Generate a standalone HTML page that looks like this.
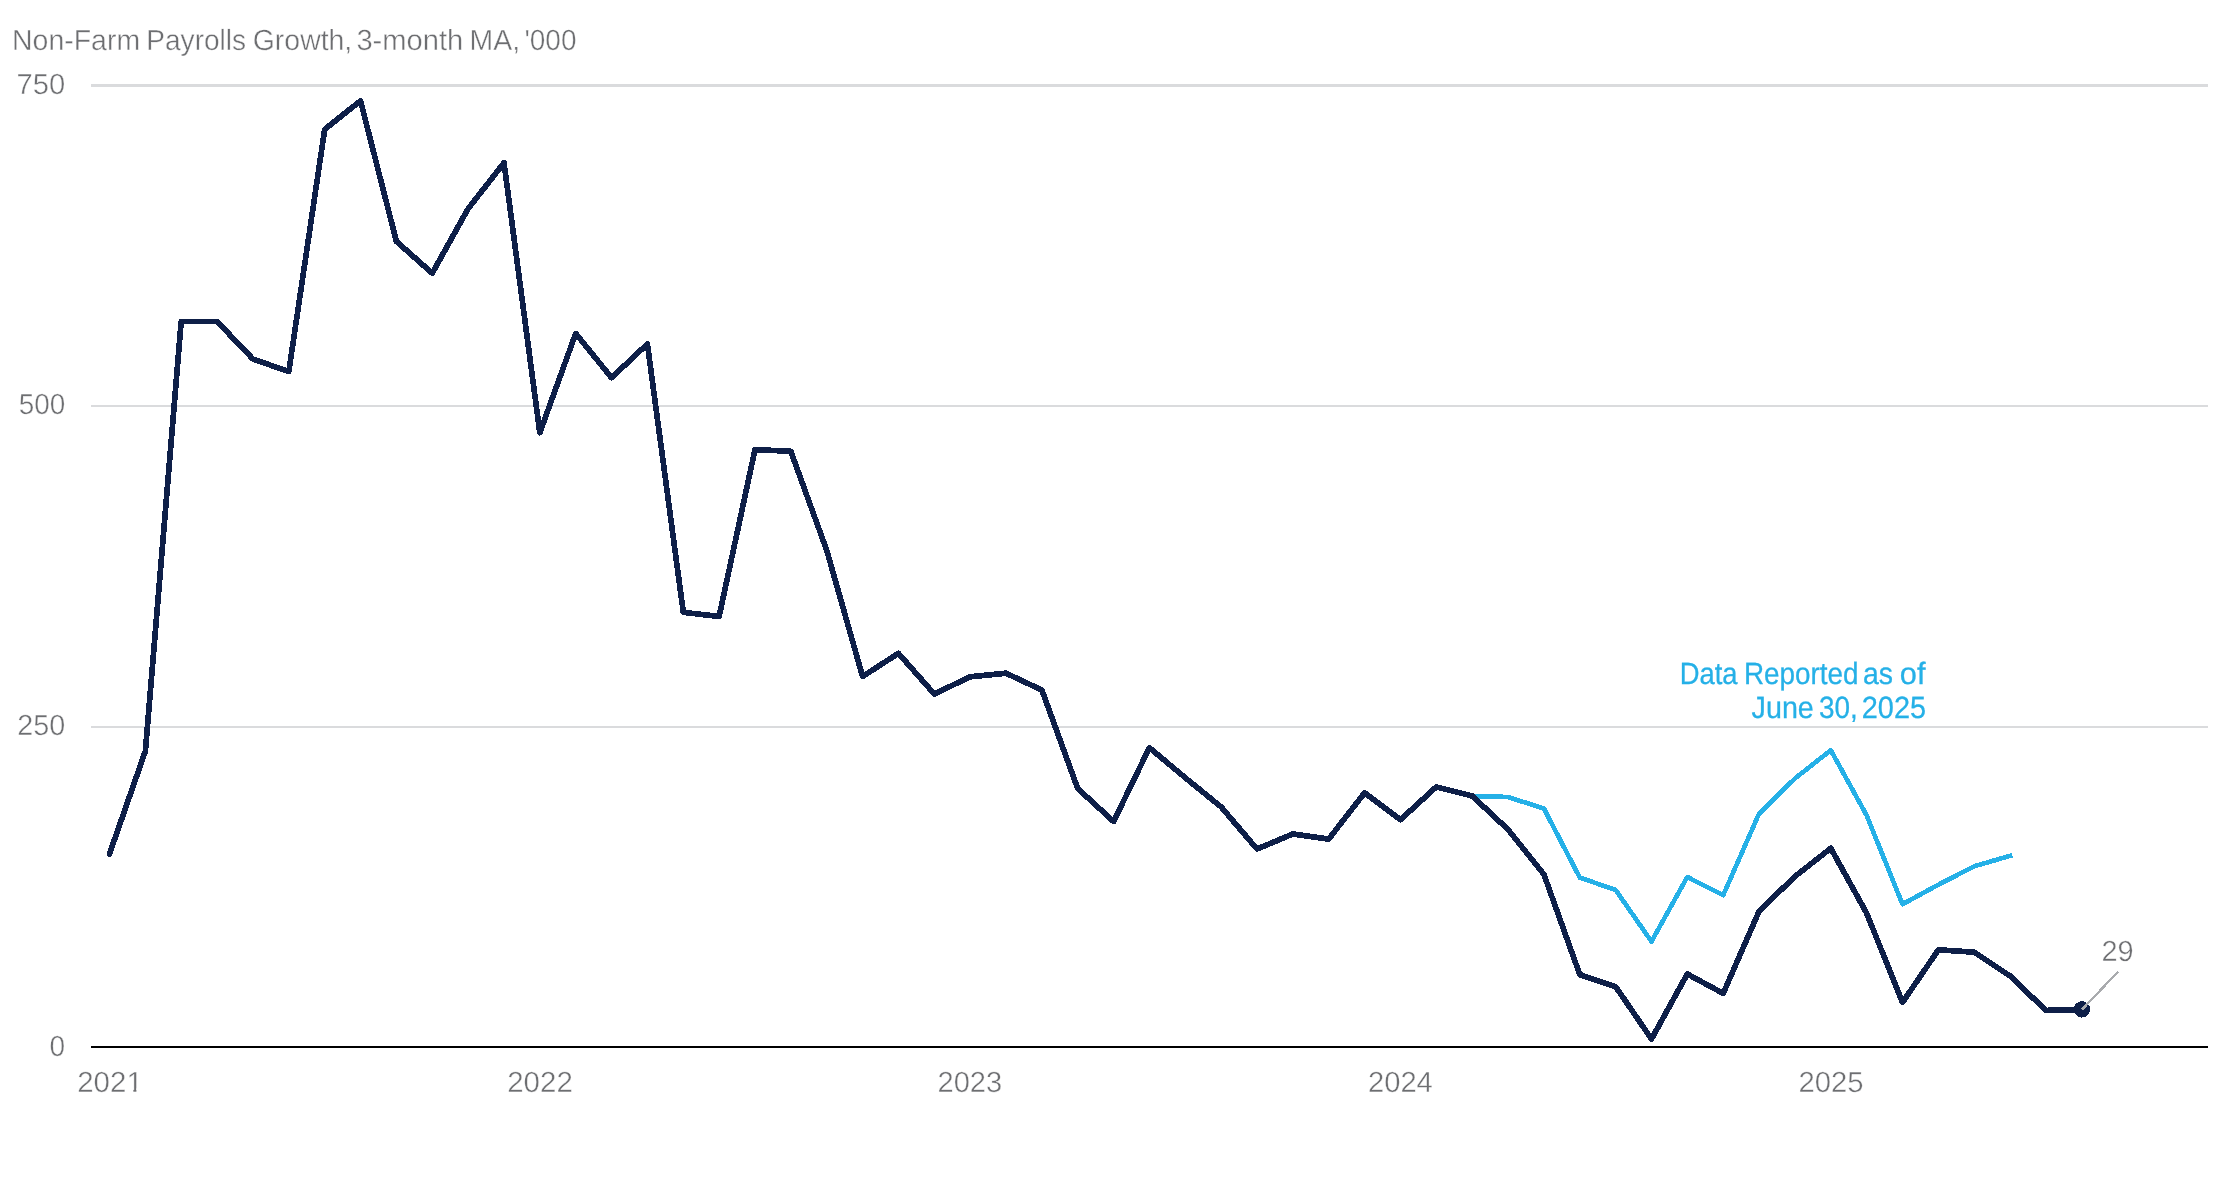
<!DOCTYPE html>
<html>
<head>
<meta charset="utf-8">
<title>Non-Farm Payrolls Growth</title>
<style>
html,body{margin:0;padding:0;background:#ffffff;}
body{width:2217px;height:1196px;overflow:hidden;position:relative;font-family:"Liberation Sans",sans-serif;}
svg{position:absolute;left:0;top:0;display:block;will-change:transform;}
text{font-family:"Liberation Sans",sans-serif;font-kerning:none;text-rendering:geometricPrecision;}
.g{fill:#6d6e71;stroke:#ffffff;stroke-width:0.4px;}
.b{fill:#25b0e7;stroke:#25b0e7;stroke-width:0.3px;}
</style>
</head>
<body>
<svg width="2217" height="1196" viewBox="0 0 2217 1196">
  <!-- gridlines -->
  <g fill="#dadbdd" shape-rendering="crispEdges">
    <rect x="91" y="84" width="2117" height="3"/>
    <rect x="91" y="405" width="2117" height="2"/>
    <rect x="91" y="726" width="2117" height="2"/>
  </g>
  <!-- baseline axis -->
  <rect x="91" y="1046" width="2117" height="2" fill="#000000" shape-rendering="crispEdges"/>

  <!-- light series -->
  <polyline id="light" points="1472.2,796 1508.0,797 1543.9,808.6 1579.8,877.6 1615.6,889.9 1651.5,941.5 1687.3,877.0 1723.2,895.2 1759.1,813.6 1794.9,778.5 1830.8,750.2 1866.6,815.3 1902.5,904.2 1938.4,884.7 1974.2,866.3 2010.1,855.8" fill="none" stroke="#25b0e7" stroke-width="4.7" stroke-linejoin="round" stroke-linecap="square" shape-rendering="crispEdges"/>
  <!-- dark series -->
  <polyline id="dark" points="109.5,853.9 145.4,751 181.2,321.5 217.1,321.5 252.9,359 288.8,371.6 324.7,129.3 360.5,100.8 396.4,241.4 432.2,273.2 468.1,208.7 504.0,162.8 539.8,432.7 575.7,333.5 611.5,377.7 647.4,344 683.3,612.3 719.1,616.5 755.0,449.6 790.8,451.3 826.7,550.2 862.6,676.5 898.4,653.3 934.3,694 970.1,676.8 1006.0,673.2 1041.9,690.1 1077.7,788.5 1113.6,821.5 1149.4,747.7 1185.3,777.8 1221.2,807 1257.0,849 1292.9,834 1328.7,839.1 1364.6,792.8 1400.5,819.7 1436.3,786.9 1472.2,796 1508.0,829.5 1543.9,874.3 1579.8,974.6 1615.6,986.6 1651.5,1039 1687.3,974 1723.2,993.4 1759.1,911.2 1794.9,876.5 1830.8,848.3 1866.6,913.1 1902.5,1002.4 1938.4,949.8 1974.2,952.2 2010.1,976 2045.9,1010.4 2081.8,1009.5" fill="none" stroke="#0e1f48" stroke-width="5.7" stroke-linejoin="round" stroke-linecap="round" shape-rendering="crispEdges"/>
  <circle cx="2081.9" cy="1009.4" r="8.2" fill="#0e1f48" shape-rendering="crispEdges"/>
  <!-- leader -->
  <line x1="2082.2" y1="1009.4" x2="2118.3" y2="971.4" stroke="#a9abae" stroke-width="2.3" shape-rendering="crispEdges"/>

  <text class="g" x="12.07" y="50.1" font-size="29.17" textLength="128.01" lengthAdjust="spacingAndGlyphs">Non-Farm</text>
  <text class="g" x="146.3" y="50.1" font-size="29.17" textLength="99.82" lengthAdjust="spacingAndGlyphs">Payrolls</text>
  <text class="g" x="252.77" y="50.1" font-size="29.17" textLength="99.48" lengthAdjust="spacingAndGlyphs">Growth,</text>
  <text class="g" x="356.39" y="50.1" font-size="29.17" textLength="106.9" lengthAdjust="spacingAndGlyphs">3-month</text>
  <text class="g" x="469.47" y="50.1" font-size="29.17" textLength="50.59" lengthAdjust="spacingAndGlyphs">MA,</text>
  <text class="g" x="524.48" y="50.1" font-size="29.17" textLength="52.01" lengthAdjust="spacingAndGlyphs">'000</text>
  <text id="y750" class="g" x="16.61" y="93.8" font-size="29.07" textLength="48.63" lengthAdjust="spacingAndGlyphs">750</text>
  <text id="y500" class="g" x="18.68" y="414.2" font-size="29.07" textLength="46.5" lengthAdjust="spacingAndGlyphs">500</text>
  <text id="y250" class="g" x="17.25" y="735.1" font-size="29.07" textLength="47.97" lengthAdjust="spacingAndGlyphs">250</text>
  <text id="y0" class="g" x="49.61" y="1055.8" font-size="29.07" textLength="15.59" lengthAdjust="spacingAndGlyphs">0</text>
  <text id="x2021" class="g" x="77.22" y="1092.0" font-size="29.07" textLength="65.56" lengthAdjust="spacingAndGlyphs">2021</text>
  <text id="x2022" class="g" x="507.22" y="1092.0" font-size="29.07" textLength="65.56" lengthAdjust="spacingAndGlyphs">2022</text>
  <text id="x2023" class="g" x="937.54" y="1092.0" font-size="29.07" textLength="64.64" lengthAdjust="spacingAndGlyphs">2023</text>
  <text id="x2024" class="g" x="1367.93" y="1092.0" font-size="29.07" textLength="64.92" lengthAdjust="spacingAndGlyphs">2024</text>
  <text id="x2025" class="g" x="1798.53" y="1092.0" font-size="29.07" textLength="65.1" lengthAdjust="spacingAndGlyphs">2025</text>
  <text id="v29" class="g" x="2101.44" y="961.0" font-size="29.07" textLength="32.23" lengthAdjust="spacingAndGlyphs">29</text>
  <text class="b" x="1679.7" y="683.65" font-size="30.77" textLength="57.85" lengthAdjust="spacingAndGlyphs">Data</text>
  <text class="b" x="1743.96" y="683.65" font-size="30.77" textLength="114.68" lengthAdjust="spacingAndGlyphs">Reported</text>
  <text class="b" x="1863.04" y="683.65" font-size="30.77" textLength="30.04" lengthAdjust="spacingAndGlyphs">as</text>
  <text class="b" x="1899.86" y="683.65" font-size="30.77" textLength="25.65" lengthAdjust="spacingAndGlyphs">of</text>
  <text class="b" x="1751.6" y="717.55" font-size="30.77" textLength="62.22" lengthAdjust="spacingAndGlyphs">June</text>
  <text class="b" x="1818.89" y="717.55" font-size="30.77" textLength="38.77" lengthAdjust="spacingAndGlyphs">30,</text>
  <text class="b" x="1861.8" y="717.55" font-size="30.77" textLength="64.27" lengthAdjust="spacingAndGlyphs">2025</text>
  <!-- trim the foot serif of the "1" in 2021 (target font has a plain 1) -->
  <rect x="126.5" y="1088.4" width="6.85" height="4.6" fill="#ffffff"/>
  <rect x="136.4" y="1088.4" width="6.6" height="4.6" fill="#ffffff"/>
</svg>
</body>
</html>
